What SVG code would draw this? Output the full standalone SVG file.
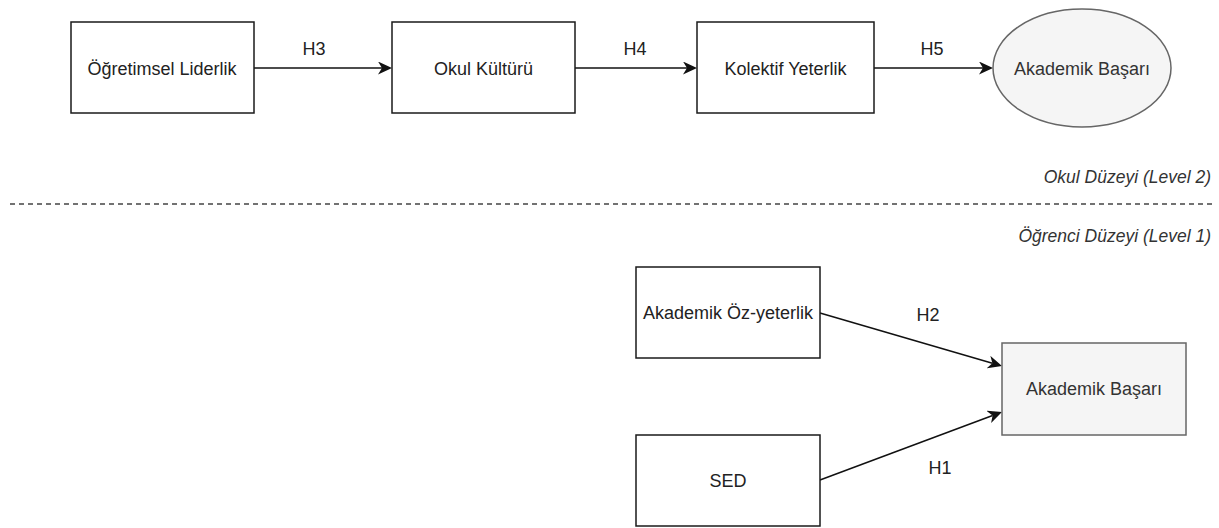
<svg xmlns="http://www.w3.org/2000/svg" width="1219" height="528" viewBox="0 0 1219 528">
<style>
.box{fill:#ffffff;stroke:#1a1a1a;stroke-width:1.5}
.out{fill:#f5f5f5;stroke:#666666;stroke-width:1.5}
.t{font-family:"Liberation Sans",Arial,sans-serif;font-size:18px;fill:#222222;text-anchor:middle}
.to{font-family:"Liberation Sans",Arial,sans-serif;font-size:18px;fill:#333333;text-anchor:middle}
.lvl{font-family:"Liberation Sans",Arial,sans-serif;font-size:17.5px;font-style:italic;fill:#333333;text-anchor:end}
.edge{fill:none;stroke:#111111;stroke-width:1.5}
.sep{fill:none;stroke:#444444;stroke-width:1.5;stroke-dasharray:5 4}
</style>
<defs>
<marker id="arr" viewBox="0 0 14 13" refX="4" refY="6.5" markerWidth="14" markerHeight="13" markerUnits="userSpaceOnUse" orient="auto">
<path d="M0,0 L14,6.5 L0,13 L4,6.5 Z" fill="#111111"/>
</marker>
</defs>
<g id="connectors">
<line class="edge" x1="254" y1="68" x2="382" y2="68" marker-end="url(#arr)"/>
<line class="edge" x1="575" y1="68" x2="687" y2="68" marker-end="url(#arr)"/>
<line class="edge" x1="874" y1="68" x2="983" y2="68" marker-end="url(#arr)"/>
<line class="edge" x1="820" y1="313" x2="992.4" y2="363.2" marker-end="url(#arr)"/>
<line class="edge" x1="820" y1="480" x2="992.6" y2="415.5" marker-end="url(#arr)"/>
<text class="t" x="314" y="55">H3</text>
<text class="t" x="635" y="55">H4</text>
<text class="t" x="932" y="55">H5</text>
<text class="t" x="928" y="321">H2</text>
<text class="t" x="940" y="474">H1</text>
</g>
<g id="n-ogretimsel">
<rect class="box" x="71" y="22" width="183" height="91"/>
<text class="t" x="162" y="75">Öğretimsel Liderlik</text>
</g>
<g id="n-okulkulturu">
<rect class="box" x="392" y="22" width="183" height="91"/>
<text class="t" x="483.5" y="75">Okul Kültürü</text>
</g>
<g id="n-kolektif">
<rect class="box" x="697" y="22" width="177" height="91"/>
<text class="t" x="785.5" y="75">Kolektif Yeterlik</text>
</g>
<g id="n-basari-okul">
<ellipse class="out" cx="1082" cy="68" rx="89" ry="59"/>
<text class="to" x="1082" y="75">Akademik Başarı</text>
</g>
<g id="separator">
<line class="sep" x1="10" y1="204" x2="1215" y2="204"/>
<text class="lvl" x="1211" y="183">Okul Düzeyi (Level 2)</text>
<text class="lvl" x="1211" y="242">Öğrenci Düzeyi (Level 1)</text>
</g>
<g id="n-ozyeterlik">
<rect class="box" x="636" y="267" width="184" height="91"/>
<text class="t" x="728" y="319">Akademik Öz-yeterlik</text>
</g>
<g id="n-sed">
<rect class="box" x="636" y="435" width="184" height="91"/>
<text class="t" x="728" y="487">SED</text>
</g>
<g id="n-basari-ogrenci">
<rect class="out" x="1002" y="343" width="184" height="92"/>
<text class="to" x="1094" y="395">Akademik Başarı</text>
</g>
</svg>
